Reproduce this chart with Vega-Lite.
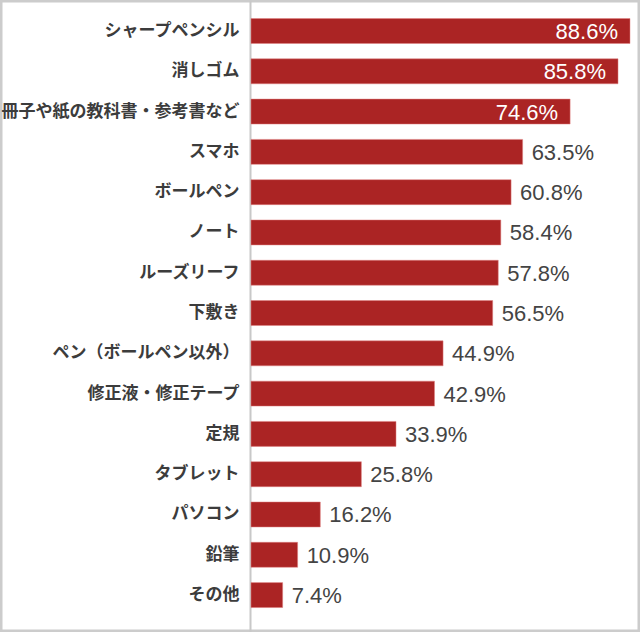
{
  "$schema": "https://vega.github.io/schema/vega-lite/v6.json",
  "width": 640,
  "height": 632,
  "autosize": {"type": "none"},
  "padding": 0,
  "background": "white",
  "config": {
    "view": {"stroke": "#cccccc", "strokeWidth": 5}
  },
  "data": {
    "values": [
      {"item": "シャープペンシル", "value": 88.6, "label": "88.6%", "inside": true},
      {"item": "消しゴム", "value": 85.8, "label": "85.8%", "inside": true},
      {"item": "冊子や紙の教科書・参考書など", "value": 74.6, "label": "74.6%", "inside": true},
      {"item": "スマホ", "value": 63.5, "label": "63.5%", "inside": false},
      {"item": "ボールペン", "value": 60.8, "label": "60.8%", "inside": false},
      {"item": "ノート", "value": 58.4, "label": "58.4%", "inside": false},
      {"item": "ルーズリーフ", "value": 57.8, "label": "57.8%", "inside": false},
      {"item": "下敷き", "value": 56.5, "label": "56.5%", "inside": false},
      {"item": "ペン（ボールペン以外）", "value": 44.9, "label": "44.9%", "inside": false},
      {"item": "修正液・修正テープ", "value": 42.9, "label": "42.9%", "inside": false},
      {"item": "定規", "value": 33.9, "label": "33.9%", "inside": false},
      {"item": "タブレット", "value": 25.8, "label": "25.8%", "inside": false},
      {"item": "パソコン", "value": 16.2, "label": "16.2%", "inside": false},
      {"item": "鉛筆", "value": 10.9, "label": "10.9%", "inside": false},
      {"item": "その他", "value": 7.4, "label": "7.4%", "inside": false}
    ]
  },
  "encoding": {
    "y": {
      "field": "item",
      "type": "nominal",
      "sort": null,
      "scale": {"paddingInner": 0.38, "paddingOuter": 0.533, "align": 0.431},
      "axis": {
        "title": null,
        "offset": -250,
        "ticks": false,
        "domainColor": "#c8c8c8",
        "domainWidth": 2,
        "labelFont": "Noto Sans CJK JP",
        "labelFontSize": 17,
        "labelFontWeight": "bold",
        "labelColor": "#3c3c3c",
        "labelPadding": 11,
        "labelLimit": 260
      }
    }
  },
  "layer": [
    {
      "mark": {"type": "bar", "color": "#ab2424", "stroke": "#e08080", "strokeWidth": 0.5},
      "encoding": {
        "x": {
          "field": "value",
          "type": "quantitative",
          "scale": {"domain": [0, 88.6], "range": [251, 630], "nice": false, "zero": true},
          "axis": null
        }
      }
    },
    {
      "transform": [{"filter": "datum.inside"}],
      "mark": {"type": "text", "align": "right", "baseline": "middle", "dx": -12, "dy": 1, "font": "Liberation Sans", "fontSize": 22, "color": "white"},
      "encoding": {
        "x": {"field": "value", "type": "quantitative", "scale": {"domain": [0, 88.6], "range": [251, 630], "nice": false, "zero": true}, "axis": null},
        "text": {"field": "label"}
      }
    },
    {
      "transform": [{"filter": "!datum.inside"}],
      "mark": {"type": "text", "align": "left", "baseline": "middle", "dx": 9, "dy": 1, "font": "Liberation Sans", "fontSize": 22, "color": "#444444"},
      "encoding": {
        "x": {"field": "value", "type": "quantitative", "scale": {"domain": [0, 88.6], "range": [251, 630], "nice": false, "zero": true}, "axis": null},
        "text": {"field": "label"}
      }
    }
  ]
}
